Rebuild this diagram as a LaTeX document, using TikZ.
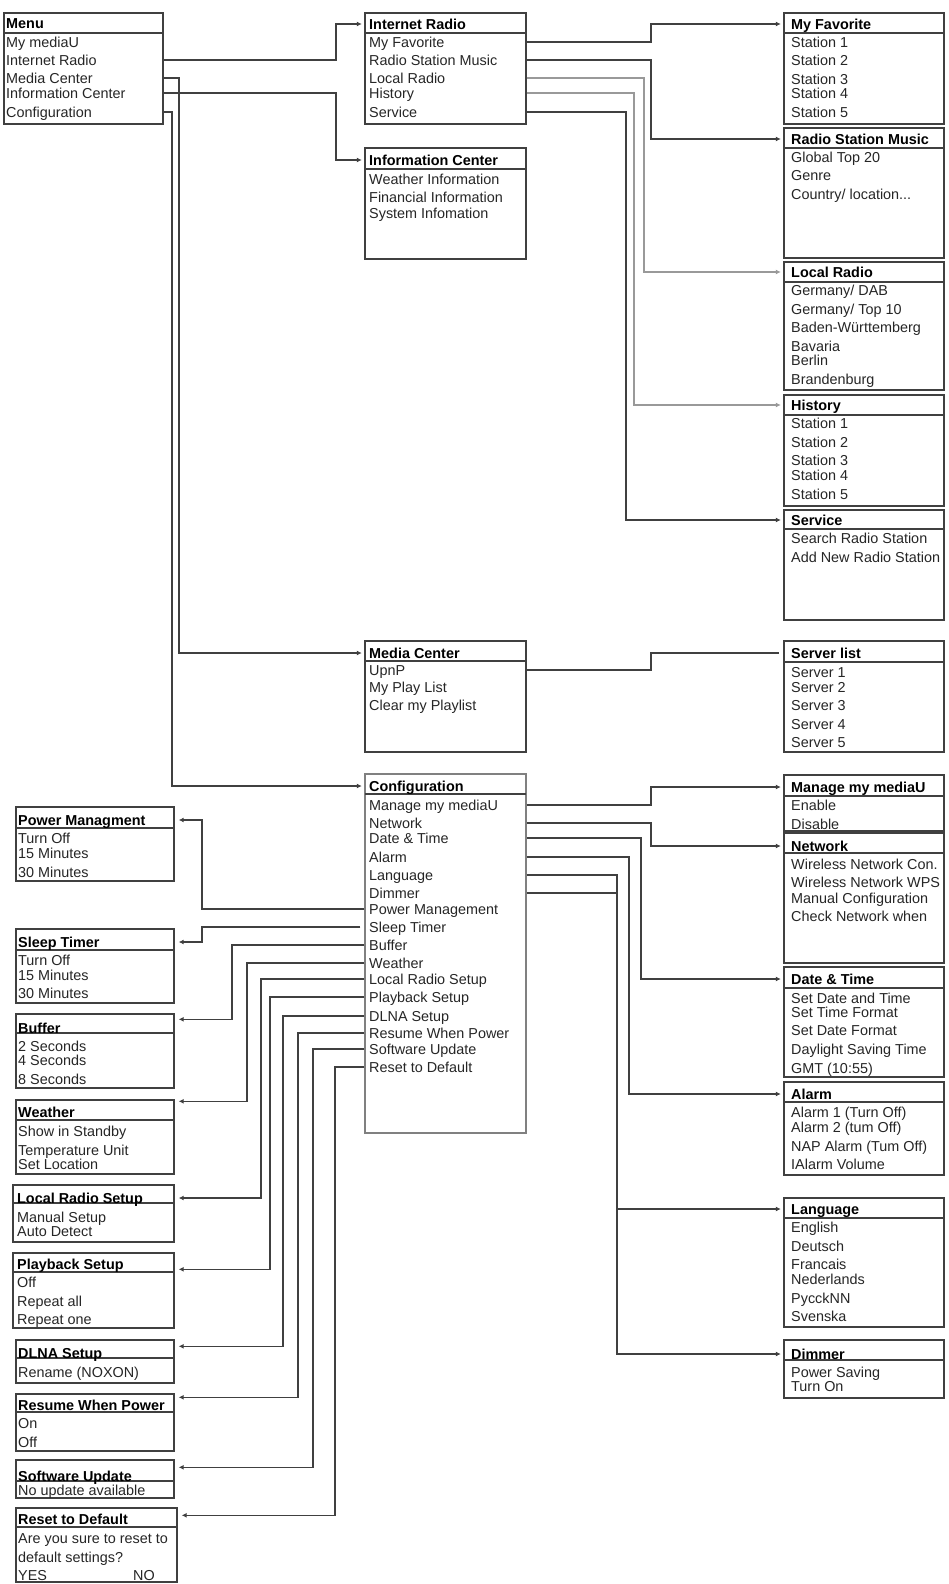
\documentclass[tikz,border=0pt]{standalone}
\usepackage{fontspec}
\setmainfont{Liberation Sans}
\usetikzlibrary{fit,calc,arrows.meta}
\newcommand\menubox[7][]{%
  \coordinate (#2nw) at (#3,#4);
  \coordinate (#2se) at (#5,#6);
  \node[box, #1, fit=(#2nw)(#2se)] (#2) {};
  \draw[hline] (#3,#7) -- (#5,#7);
}
\begin{document}
\begin{tikzpicture}[x=1pt,y=-1pt,
  box/.style={draw=black!75, line width=1.4pt, inner sep=0pt},
  hline/.style={draw=black!75, line width=1.4pt},
  it/.style={anchor=west, inner sep=0pt, text height=10.3pt, text depth=0pt,
     font=\fontsize{14.4}{16}\selectfont, text=black!85},
  hd/.style={it, font=\fontsize{14.4}{16}\selectfont\bfseries, text=black},
  conn/.style={draw=black!75, line width=1.4pt, -{Latex[length=5pt,width=5pt]}, shorten >=2.5pt},
  gconn/.style={conn, draw=black!40},
  lconn/.style={conn, shorten >=4pt},
  plain/.style={draw=black!75, line width=1.4pt}
]
\useasboundingbox (0,0) rectangle (948,1584);
\fill[white] (0,0) rectangle (948,1584);

% ---------- bend columns ----------
\coordinate (xA) at (336,0);
\coordinate (xB) at (179,0);
\coordinate (xC) at (172,0);
\coordinate (xD) at (651,0);
\coordinate (xE) at (644,0);
\coordinate (xF) at (634,0);
\coordinate (xG) at (626,0);
\coordinate (xH) at (641,0);
\coordinate (xI) at (629,0);
\coordinate (xJ) at (617,0);
\coordinate (xPm) at (202,0);
\coordinate (xSt) at (202,0);
\coordinate (xBuf) at (232,0);
\coordinate (xWea) at (247,0);
\coordinate (xLrs) at (261,0);
\coordinate (xPb) at (270,0);
\coordinate (xDl) at (283,0);
\coordinate (xRes) at (298,0);
\coordinate (xSw) at (313,0);
\coordinate (xRst) at (335,0);

% ---------- Menu ----------
\menubox{menu}{4}{13}{163}{124}{33}
\node[hd] (mH) at (6,23) {Menu};
\node[it] (m1) at (6,42) {My mediaU};
\node[it] (m2) at (6,60) {Internet Radio};
\node[it] (m3) at (6,78) {Media Center};
\node[it] (m4) at (6,93) {Information Center};
\node[it] (m5) at (6,112) {Configuration};

% ---------- middle column ----------
\menubox{ir}{365}{13}{526}{124}{33}
\node[hd] (irH) at (369,24) {Internet Radio};
\node[it] (ir1) at (369,42) {My Favorite};
\node[it] (ir2) at (369,60) {Radio Station Music};
\node[it] (ir3) at (369,78) {Local Radio};
\node[it] (ir4) at (369,93) {History};
\node[it] (ir5) at (369,112) {Service};

\menubox{ic}{365}{148}{526}{259}{169}
\node[hd] (icH) at (369,160) {Information Center};
\node[it] (ic1) at (369,179) {Weather Information};
\node[it] (ic2) at (369,197) {Financial Information};
\node[it] (ic3) at (369,213) {System Infomation};

\menubox{mc}{365}{641}{526}{752}{661}
\node[hd] (mcH) at (369,653) {Media Center};
\node[it] (mc1) at (369,670) {UpnP};
\node[it] (mc2) at (369,687) {My Play List};
\node[it] (mc3) at (369,705) {Clear my Playlist};

\menubox[draw=black!50]{cf}{365}{774}{526}{1133}{794}
\node[hd] (cfH) at (369,786) {Configuration};
\node[it] (cf1) at (369,805) {Manage my mediaU};
\node[it] (cf2) at (369,823) {Network};
\node[it] (cf3) at (369,838) {Date \& Time};
\node[it] (cf4) at (369,857) {Alarm};
\node[it] (cf5) at (369,875) {Language};
\node[it] (cf6) at (369,893) {Dimmer};
\node[it] (cf7) at (369,909) {Power Management};
\node[it] (cf8) at (369,927) {Sleep Timer};
\node[it] (cf9) at (369,945) {Buffer};
\node[it] (cf10) at (369,963) {Weather};
\node[it] (cf11) at (369,979) {Local Radio Setup};
\node[it] (cf12) at (369,997) {Playback Setup};
\node[it] (cf13) at (369,1016) {DLNA Setup};
\node[it] (cf14) at (369,1033) {Resume When Power};
\node[it] (cf15) at (369,1049) {Software Update};
\node[it] (cf16) at (369,1067) {Reset to Default};

% ---------- right column ----------
\menubox{fav}{784}{13}{944}{124}{33}
\node[hd] (favH) at (791,24) {My Favorite};
\node[it] (fav1) at (791,42) {Station 1};
\node[it] (fav2) at (791,60) {Station 2};
\node[it] (fav3) at (791,79) {Station 3};
\node[it] (fav4) at (791,93) {Station 4};
\node[it] (fav5) at (791,112) {Station 5};

\menubox{rsm}{784}{128}{944}{258}{148}
\node[hd] (rsmH) at (791,139) {Radio Station Music};
\node[it] (rsm1) at (791,157) {Global Top 20};
\node[it] (rsm2) at (791,175) {Genre};
\node[it] (rsm3) at (791,194) {Country/ location...};

\menubox{lr}{784}{262}{944}{390}{282}
\node[hd] (lrH) at (791,272) {Local Radio};
\node[it] (lr1) at (791,290) {Germany/ DAB};
\node[it] (lr2) at (791,309) {Germany/ Top 10};
\node[it] (lr3) at (791,327) {Baden-Württemberg};
\node[it] (lr4) at (791,346) {Bavaria};
\node[it] (lr5) at (791,360) {Berlin};
\node[it] (lr6) at (791,379) {Brandenburg};

\menubox{hist}{784}{395}{944}{506}{415}
\node[hd] (histH) at (791,405) {History};
\node[it] (hist1) at (791,423) {Station 1};
\node[it] (hist2) at (791,442) {Station 2};
\node[it] (hist3) at (791,460) {Station 3};
\node[it] (hist4) at (791,475) {Station 4};
\node[it] (hist5) at (791,494) {Station 5};

\menubox{svc}{784}{510}{944}{620}{529}
\node[hd] (svcH) at (791,520) {Service};
\node[it] (svc1) at (791,538) {Search Radio Station};
\node[it] (svc2) at (791,557) {Add New Radio Station};

\menubox{srv}{784}{641}{944}{752}{662}
\node[hd] (srvH) at (791,653) {Server list};
\node[it] (srv1) at (791,672) {Server 1};
\node[it] (srv2) at (791,687) {Server 2};
\node[it] (srv3) at (791,705) {Server 3};
\node[it] (srv4) at (791,724) {Server 4};
\node[it] (srv5) at (791,742) {Server 5};

\menubox{mmu}{784}{775}{944}{831}{796}
\node[hd] (mmuH) at (791,787) {Manage my mediaU};
\node[it] (mmu1) at (791,805) {Enable};
\node[it] (mmu2) at (791,824) {Disable};

\menubox{net}{784}{833}{944}{963}{853}
\node[hd] (netH) at (791,846) {Network};
\node[it] (net1) at (791,864) {Wireless Network Con.};
\node[it] (net2) at (791,882) {Wireless Network WPS};
\node[it] (net3) at (791,898) {Manual Configuration};
\node[it] (net4) at (791,916) {Check Network when};

\menubox{dt}{784}{967}{944}{1077}{988}
\node[hd] (dtH) at (791,979) {Date \& Time};
\node[it] (dt1) at (791,998) {Set Date and Time};
\node[it] (dt2) at (791,1012) {Set Time Format};
\node[it] (dt3) at (791,1030) {Set Date Format};
\node[it] (dt4) at (791,1049) {Daylight Saving Time};
\node[it] (dt5) at (791,1068) {GMT (10:55)};

\menubox{al}{784}{1082}{944}{1175}{1102}
\node[hd] (alH) at (791,1094) {Alarm};
\node[it] (al1) at (791,1112) {Alarm 1 (Turn Off)};
\node[it] (al2) at (791,1127) {Alarm 2 (tum Off)};
\node[it] (al3) at (791,1146) {NAP Alarm (Tum Off)};
\node[it] (al4) at (791,1164) {IAlarm Volume};

\menubox{lang}{784}{1198}{944}{1327}{1218}
\node[hd] (langH) at (791,1209) {Language};
\node[it] (lang1) at (791,1227) {English};
\node[it] (lang2) at (791,1246) {Deutsch};
\node[it] (lang3) at (791,1264) {Francais};
\node[it] (lang4) at (791,1279) {Nederlands};
\node[it] (lang5) at (791,1298) {PycckNN};
\node[it] (lang6) at (791,1316) {Svenska};

\menubox{dim}{784}{1340}{944}{1398}{1360}
\node[hd] (dimH) at (791,1354) {Dimmer};
\node[it] (dim1) at (791,1372) {Power Saving};
\node[it] (dim2) at (791,1386) {Turn On};

% ---------- left column ----------
\menubox{pm}{16}{807}{174}{881}{828}
\node[hd] (pmH) at (18,820) {Power Managment};
\node[it] (pm1) at (18,838) {Turn Off};
\node[it] (pm2) at (18,853) {15 Minutes};
\node[it] (pm3) at (18,872) {30 Minutes};

\menubox{st}{16}{929}{174}{1003}{950}
\node[hd] (stH) at (18,942) {Sleep Timer};
\node[it] (st1) at (18,960) {Turn Off};
\node[it] (st2) at (18,975) {15 Minutes};
\node[it] (st3) at (18,993) {30 Minutes};

\menubox{buf}{16}{1014}{174}{1088}{1033}
\node[hd] (bufH) at (18,1028) {Buffer};
\node[it] (buf1) at (18,1046) {2 Seconds};
\node[it] (buf2) at (18,1060) {4 Seconds};
\node[it] (buf3) at (18,1079) {8 Seconds};

\menubox{wea}{16}{1100}{174}{1174}{1120}
\node[hd] (weaH) at (18,1112) {Weather};
\node[it] (wea1) at (18,1131) {Show in Standby};
\node[it] (wea2) at (18,1150) {Temperature Unit};
\node[it] (wea3) at (18,1164) {Set Location};

\menubox{lrs}{13}{1185}{174}{1242}{1203}
\node[hd] (lrsH) at (17,1198) {Local Radio Setup};
\node[it] (lrs1) at (17,1217) {Manual Setup};
\node[it] (lrs2) at (17,1231) {Auto Detect};

\menubox{pb}{13}{1253}{174}{1328}{1272}
\node[hd] (pbH) at (17,1264) {Playback Setup};
\node[it] (pb1) at (17,1282) {Off};
\node[it] (pb2) at (17,1301) {Repeat all};
\node[it] (pb3) at (17,1319) {Repeat one};

\menubox{dlna}{16}{1340}{174}{1383}{1358}
\node[hd] (dlnaH) at (18,1353) {DLNA Setup};
\node[it] (dlna1) at (18,1372) {Rename (NOXON)};

\menubox{res}{16}{1394}{174}{1451}{1412}
\node[hd] (resH) at (18,1405) {Resume When Power};
\node[it] (res1) at (18,1423) {On};
\node[it] (res2) at (18,1442) {Off};

\menubox{sw}{16}{1460}{174}{1498}{1481}
\node[hd] (swH) at (18,1476) {Software Update};
\node[it] (sw1) at (18,1490) {No update available};

\menubox{rst}{16}{1508}{177}{1582}{1527}
\node[hd] (rstH) at (18,1519) {Reset to Default};
\node[it] (rst1) at (18,1538) {Are you sure to reset to};
\node[it] (rst2) at (18,1557) {default settings?};
\node[it] (rst3) at (18,1575) {YES};
\node[it] (rst4) at (133,1575) {NO};

% ---------- arrow targets (left column) ----------
\coordinate (tBuf) at ($(buf.north east)+(0,6)$);
\coordinate (tWea) at ($(wea.north east)+(0,2)$);
\coordinate (tPb) at ($(pb.north east)+(0,17)$);
\coordinate (tDl) at ($(dlna.north east)+(0,7)$);
\coordinate (tRes) at ($(res.north east)+(0,4)$);
\coordinate (tSw) at ($(sw.north east)+(0,8)$);
\coordinate (tRst) at ($(rst.north east)+(0,8)$);

% ---------- connectors: menu ----------
\draw[conn] (menu.east |- m2) -| (xA |- irH) -- (ir.west |- irH);
\draw[conn] (menu.east |- m4) -| (xA |- icH) -- (ic.west |- icH);
\draw[conn] (menu.east |- m3) -| (xB |- mcH) -- (mc.west |- mcH);
\draw[conn] (menu.east |- m5) -| (xC |- cfH) -- (cf.west |- cfH);

% ---------- connectors: internet radio ----------
\draw[conn] (ir.east |- ir1) -| (xD |- favH) -- (fav.west |- favH);
\draw[conn] (ir.east |- ir2) -| (xD |- rsmH) -- (rsm.west |- rsmH);
\draw[gconn] (ir.east |- ir3) -| (xE |- lrH) -- (lr.west |- lrH);
\draw[gconn] (ir.east |- ir4) -| (xF |- histH) -- (hist.west |- histH);
\draw[conn] (ir.east |- ir5) -| (xG |- svcH) -- (svc.west |- svcH);

% ---------- connectors: media center ----------
\draw[plain, shorten >=4pt] (mc.east |- mc1) -| (xD |- srvH) -- (srv.west |- srvH);

% ---------- connectors: configuration, right ----------
\draw[conn] (cf.east |- cf1) -| (xD |- mmuH) -- (mmu.west |- mmuH);
\draw[conn] (cf.east |- cf2) -| (xD |- netH) -- (net.west |- netH);
\draw[conn] (cf.east |- cf3) -| (xH |- dtH) -- (dt.west |- dtH);
\draw[conn] (cf.east |- cf4) -| (xI |- alH) -- (al.west |- alH);
\draw[conn] (cf.east |- cf5) -| (xJ |- langH) -- (lang.west |- langH);
\draw[conn] (cf.east |- cf6) -| (xJ |- dimH) -- (dim.west |- dimH);

% ---------- connectors: configuration, left ----------
\draw[lconn] (cf.west |- cf7) -| (xPm |- pmH) -- (pm.east |- pmH);
\draw[lconn, shorten <=4pt] (cf.west |- cf8) -| (xSt |- stH) -- (st.east |- stH);
\draw[lconn] (cf.west |- cf9) -| (xBuf |- tBuf) -- (tBuf);
\draw[lconn] (cf.west |- cf10) -| (xWea |- tWea) -- (tWea);
\draw[lconn] (cf.west |- cf11) -| (xLrs |- lrsH) -- (lrs.east |- lrsH);
\draw[lconn] (cf.west |- cf12) -| (xPb |- tPb) -- (tPb);
\draw[lconn] (cf.west |- cf13) -| (xDl |- tDl) -- (tDl);
\draw[lconn] (cf.west |- cf14) -| (xRes |- tRes) -- (tRes);
\draw[lconn] (cf.west |- cf15) -| (xSw |- tSw) -- (tSw);
\draw[lconn] (cf.west |- cf16) -| (xRst |- tRst) -- (tRst);
\end{tikzpicture}
\end{document}
